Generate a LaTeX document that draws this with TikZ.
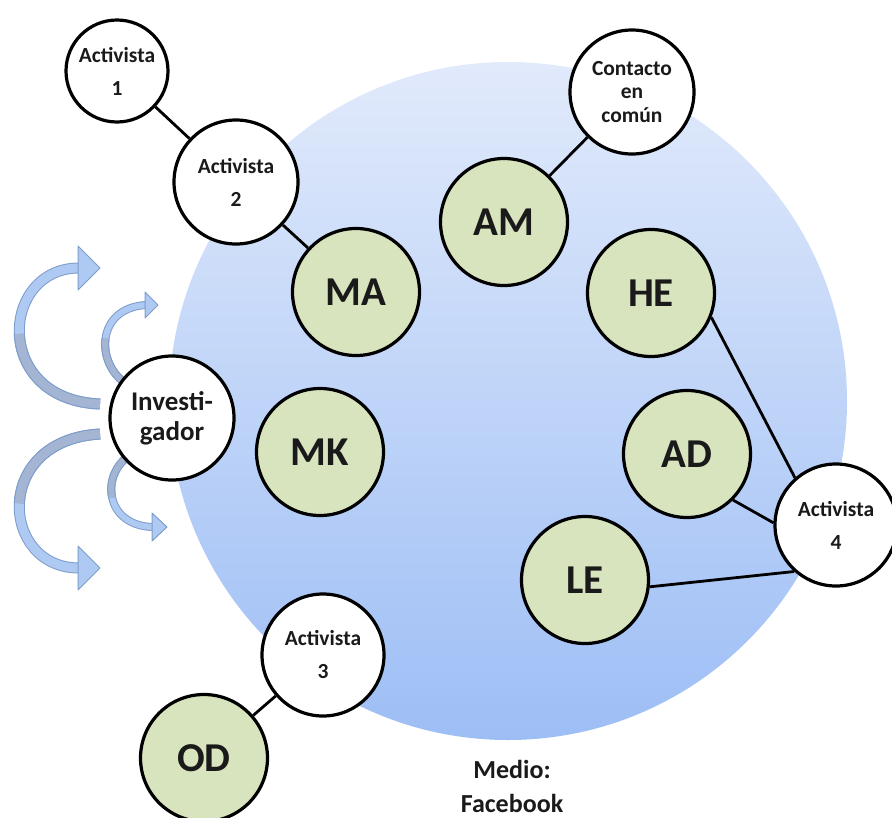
\documentclass[tikz,border=0pt]{standalone}
\usepackage{fontspec}
\setmainfont{Carlito}
\definecolor{memberfill}{HTML}{D7E4BD}
\definecolor{bigtop}{HTML}{E1EAFB}
\definecolor{bigbot}{HTML}{9DBEF5}
\definecolor{arrfill}{HTML}{AECAF2}
\definecolor{arrdark}{HTML}{A3B5D2}
\definecolor{arrline}{HTML}{7D9CCB}
\definecolor{txt}{HTML}{1A1A1A}
\tikzset{
  member/.style={circle, draw=black, line width=3.2pt, fill=memberfill, inner sep=0pt,
    minimum size=127pt, text=txt, font=\fontsize{41}{44}\selectfont\bfseries},
  person/.style={circle, draw=black, line width=3.2pt, fill=white, inner sep=0pt,
    minimum size=124pt, align=center, text=txt, font=\fontsize{21.5}{33}\selectfont\bfseries},
  link/.style={line width=2.8pt, draw=black},
  bigshaft/.style={draw=arrline, line width=1pt, double=arrfill, double distance=9pt},
  bigshaftdark/.style={draw=arrline, line width=1pt, double=arrdark, double distance=9pt},
  smallshaft/.style={draw=arrline, line width=1pt, double=arrfill, double distance=6pt},
  smallshaftdark/.style={draw=arrline, line width=1pt, double=arrdark, double distance=6pt},
  arrhead/.style={fill=arrfill, draw=arrline, line width=1pt, line join=round}
}
\begin{document}
\begin{tikzpicture}[x=1pt, y=-1pt]
\useasboundingbox (0,0) rectangle (892,817);
% medium
\shade[top color=bigtop, bottom color=bigbot] (508,401) circle (339);

% curved arrows of the researcher
% A (top, big)
\draw[bigshaft] (100,404) .. controls (-8,400) and (0,268) .. (79,268);
\draw[bigshaftdark] (100,404) .. controls (46,402) and (21,367.75) .. (19.4,334);
\filldraw[arrhead] (78,246) -- (100,268) -- (78,290) -- cycle;
% B (top, small)
\draw[smallshaft] (128,385) .. controls (95,365) and (95,308) .. (146,305);
\draw[smallshaftdark] (128,385) .. controls (111.5,375) and (103.25,355.75) .. (105.5,338.6);
\filldraw[arrhead] (145,292) -- (158,305) -- (145,318) -- cycle;
% C (bottom, big)
\draw[bigshaft] (100,434) .. controls (-8,440) and (0,568) .. (79,568);
\draw[bigshaftdark] (100,434) .. controls (46,437) and (21,470.5) .. (19.4,503.25);
\filldraw[arrhead] (78,546) -- (100,568) -- (78,590) -- cycle;
% D (bottom, small)
\draw[smallshaft] (130,455) .. controls (100,475) and (105,525) .. (152,527);
\draw[smallshaftdark] (130,455) .. controls (115,465) and (108.75,482.5) .. (112.1,497.75);
\filldraw[arrhead] (152,513) -- (167,527) -- (152,541) -- cycle;

% nodes
\node[person, minimum size=102pt] (a1) at (117,71) {Activista\\1};
\node[person] (a2) at (236,182) {Activista\\2};
\node[member] (ma) at (356,292) {MA};
\node[member] (am) at (504,222) {AM};
\node[person, font=\fontsize{21.5}{23.5}\selectfont\bfseries] (cc) at (632,92) {Contacto\\en\\común};
\node[member] (he) at (651,293) {HE};
\node[member] (ad) at (687,454) {AD};
\node[person, minimum size=122pt] (a4) at (836,525) {Activista\\4};
\node[member] (le) at (585,580) {LE};
\node[member] (mk) at (320,452) {MK};
\node[person, font=\fontsize{27}{30}\selectfont\bfseries] (inv) at (172,418) {Investi-\\gador};
\node[person, minimum size=122pt] (a3) at (323,655) {Activista\\3};
\node[member] (od) at (204,758) {OD};
\node[align=center, text=txt, font=\fontsize{26}{34}\selectfont\bfseries] (medio) at (512,786) {Medio:\\Facebook};

% links
\draw[link] (a1) -- (a2);
\draw[link] (a2) -- (ma);
\draw[link] (cc) -- (am);
\draw[link] (he.-22) -- (a4.131);
\draw[link] (ad.-45) -- (a4.178);
\draw[link] (le.-6) -- (a4.-132);
\draw[link] (a3) -- (od);
\end{tikzpicture}
\end{document}
